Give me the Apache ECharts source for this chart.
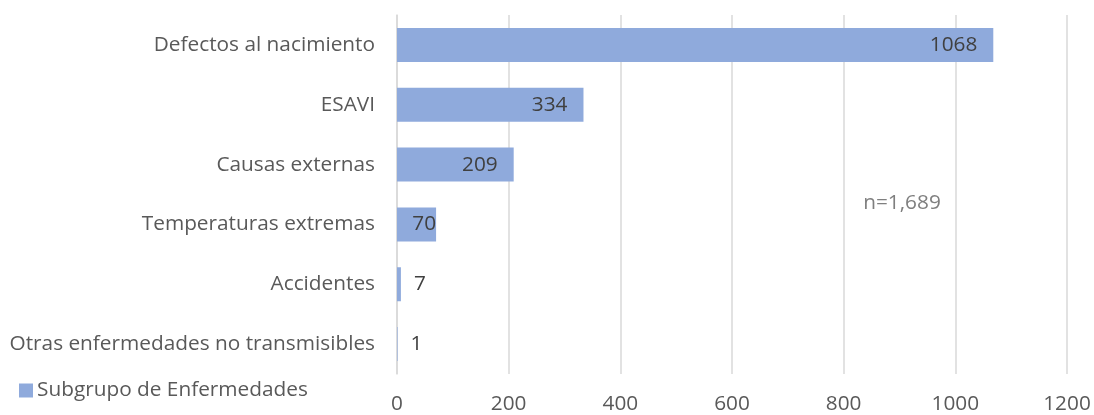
<!DOCTYPE html>
<html>
<head>
<meta charset="utf-8">
<style>
  html, body { margin: 0; padding: 0; background: #fff; }
  #chart { width: 1094px; height: 415px; }
</style>
<script src="https://cdn.jsdelivr.net/npm/echarts@6/dist/echarts.min.js"></script>
</head>
<body>
<div id="chart"></div>
<script>
// Subgroups, listed bottom to top as the category axis draws them
const categories = [
  'Otras enfermedades no transmisibles',
  'Accidentes',
  'Temperaturas extremas',
  'Causas externas',
  'ESAVI',
  'Defectos al nacimiento'
];
const values = [1, 7, 70, 209, 334, 1068];
const xTicks = [0, 200, 400, 600, 800, 1000, 1200];
const seriesName = 'Subgrupo de Enfermedades';

const FONT = '"Open Sans", "Noto Sans", sans-serif';
const SIZE = 20.8;
const AXIS_TEXT = '#595959';
const LABEL_TEXT = '#404040';
const BAR = '#8faadc';

const total = values.reduce((a, b) => a + b, 0);

// Label placement: inside the bar end when it fits, otherwise just beyond it
const data = values.map(v => {
  let label;
  if (v >= 100) label = { position: 'insideRight', distance: 16 };
  else if (v >= 50) label = { position: 'insideRight', distance: 0 };
  else label = { position: 'right', distance: 13 };
  return { value: v, label };
});

const chart = echarts.init(document.getElementById('chart'));
chart.setOption({
  animation: false,
  grid: { left: 397, right: 27, top: 15, bottom: 40, containLabel: false },
  legend: {
    left: 14, top: 375,
    itemWidth: 14, itemHeight: 14, itemGap: 4,
    icon: 'rect',
    textStyle: { fontFamily: FONT, fontSize: SIZE, color: AXIS_TEXT, padding: [0, 0, 0, -1] },
    data: [seriesName]
  },
  xAxis: {
    type: 'value',
    min: xTicks[0], max: xTicks[xTicks.length - 1], interval: xTicks[1] - xTicks[0],
    axisLine: { show: false },
    axisTick: { show: false },
    splitLine: { lineStyle: { color: '#d9d9d9', width: 1.5 } },
    axisLabel: { fontFamily: FONT, fontSize: SIZE, color: AXIS_TEXT, margin: 20, formatter: v => String(v) }
  },
  yAxis: {
    type: 'category',
    data: categories,
    axisLine: { show: true, lineStyle: { color: '#d9d9d9', width: 1.5 } },
    axisTick: { show: false },
    axisLabel: { fontFamily: FONT, fontSize: SIZE, color: AXIS_TEXT, margin: 22, padding: [2, 0, 0, 0] }
  },
  series: [{
    name: seriesName,
    type: 'bar',
    data,
    barWidth: 34,
    itemStyle: { color: BAR },
    label: { show: true, fontFamily: FONT, fontSize: SIZE, color: LABEL_TEXT, padding: [2, 0, 0, 0] }
  }],
  graphic: [{
    type: 'group',
    left: 840, top: 173, z: 100,
    children: [
      { type: 'rect', shape: { x: 0, y: 0, width: 120, height: 53 }, style: { fill: '#ffffff' } },
      { type: 'text', x: 62, y: 30, style: {
          text: 'n=' + total.toLocaleString('en-US'),
          fontFamily: FONT, fontSize: SIZE, fill: '#7f7f7f',
          align: 'center', verticalAlign: 'middle' } }
    ]
  }]
});
</script>
</body>
</html>
